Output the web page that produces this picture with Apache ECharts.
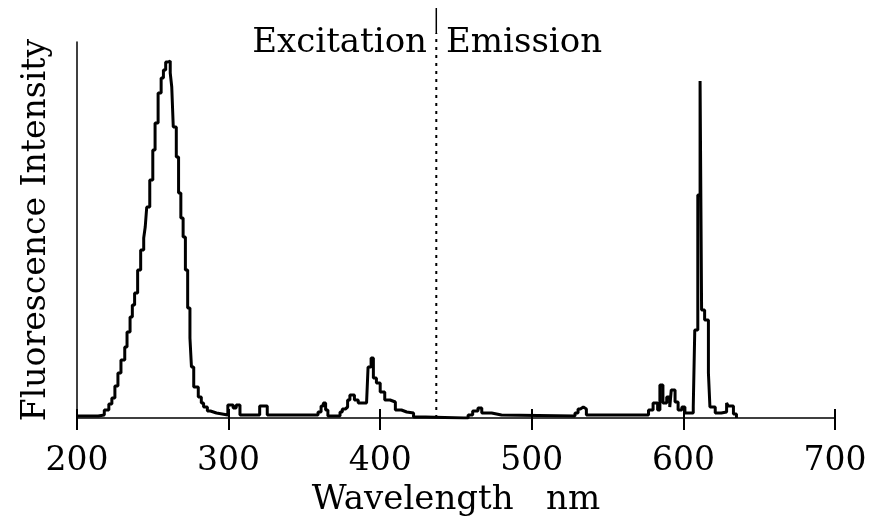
<!DOCTYPE html>
<html>
<head>
<meta charset="utf-8">
<title>Excitation / Emission spectrum</title>
<script src="https://cdn.jsdelivr.net/npm/echarts@6/dist/echarts.min.js"></script>
<style>
    html, body { margin: 0; padding: 0; background: #fff; }
    #chart { width: 869px; height: 519px; }
</style>
</head>
<body>
<div id="chart"></div>
<script>
    // wavelength (nm) and intensity (arbitrary units)
    const wavelength = [
        200, 205, 210, 214, 218, 221, 223, 225, 227, 229, 231.5, 233, 235, 236.5, 238, 240, 242, 244, 245, 246,
        248, 250, 251.5, 253.5, 255.5, 257, 258.5, 260, 261.5, 262.5, 263.5, 265.5, 267, 268.5, 270, 271.5, 273, 274.5,
        275.5, 277, 280, 282, 283.5, 286, 288, 292, 299.5, 303, 305, 307.5, 320.5, 325.5, 359, 361, 362.5, 364,
        365.5, 373.5, 375, 377, 378.5, 380, 383, 385.5, 391, 392, 394, 395.5, 397.5, 400, 403, 406.5, 410, 414,
        417.5, 422, 430, 455, 458, 461, 464.5, 467, 473.5, 480, 528.5, 530.5, 532, 534, 536, 570, 577, 580,
        583, 584.5, 586.5, 589, 591, 592, 594.5, 596.5, 599, 601, 606.5, 607.5, 609.5, 611, 612, 614, 616.5, 617.5,
        621, 625, 628.5, 629.5, 633, 635
    ];
    const intensity = [
        2, 2, 2, 3, 8, 14, 20, 32, 45, 58, 71, 86, 101, 113, 125, 148, 168, 180, 191, 211,
        238, 268, 295, 325, 340, 348, 356, 357, 345, 331, 291, 261, 225, 200, 181, 148, 110, 80,
        51, 31, 21, 15, 11, 7, 5, 3, 13, 10, 13, 3, 12, 3, 6, 12, 15, 8,
        2, 6, 9, 11, 18, 23, 18, 15, 16, 51, 60, 40, 35, 26, 18, 16, 8, 6,
        5, 1, 0, 0, 3, 7, 10, 5, 3, 2, 5, 9, 11, 9, 3, 3, 8, 15,
        8, 33, 15, 21, 11, 28, 16, 8, 11, 5, 11, 88, 223, 337, 108, 98, 45, 11,
        5, 6, 15, 12, 4, 0
    ];
    const xTicks = [200, 300, 400, 500, 600, 700];
    const divider = 437;          // excitation | emission boundary, nm
    const dividerDotted = [0, 385];  // intensity range of the dotted part
    const dividerSolid = [385, 410]; // short solid part next to the labels
    const yTop = 376;             // top of the intensity axis

    const spectrum = wavelength.map((w, i) => [w, intensity[i]]);
    const font = 'DejaVu Serif';

    let myChart = echarts.init(document.getElementById('chart'));

    let option = {
        animation: false,
        backgroundColor: '#fff',
        grid: { left: 77, right: 34, top: 42, bottom: 101, outerBoundsMode: 'none' },
        xAxis: [
            {
                type: 'value',
                min: xTicks[0],
                max: xTicks[xTicks.length - 1],
                interval: 100,
                name: 'Wavelength   nm',
                nameLocation: 'middle',
                nameGap: 60,
                nameTextStyle: { fontFamily: font, fontSize: 34, color: '#000' },
                axisLine: { lineStyle: { color: '#000', width: 1.5 } },
                axisTick: { length: 12, lineStyle: { color: '#000', width: 2 } },
                axisLabel: { fontFamily: font, fontSize: 33, color: '#000', margin: 27 },
                splitLine: { show: false }
            },
            {
                // ticks on the inner side so that they cross the axis
                type: 'value',
                position: 'bottom',
                min: xTicks[0],
                max: xTicks[xTicks.length - 1],
                interval: 100,
                axisLine: { show: false },
                axisTick: { inside: true, length: 9, lineStyle: { color: '#000', width: 2 } },
                axisLabel: { show: false },
                splitLine: { show: false }
            }
        ],
        yAxis: {
            type: 'value',
            min: 0,
            max: yTop,
            name: 'Fluorescence Intensity',
            nameLocation: 'middle',
            nameGap: 24,
            nameTextStyle: { fontFamily: font, fontSize: 33, color: '#000' },
            axisLine: { show: true, lineStyle: { color: '#000', width: 1.5 } },
            axisTick: { show: false },
            axisLabel: { show: false },
            splitLine: { show: false }
        },
        graphic: [
            {
                type: 'text', x: 427, y: 43,
                style: { text: 'Excitation', fontFamily: font, fontSize: 34, fill: '#000', align: 'right', verticalAlign: 'middle' }
            },
            {
                type: 'text', x: 446, y: 43,
                style: { text: 'Emission', fontFamily: font, fontSize: 34, fill: '#000', align: 'left', verticalAlign: 'middle' }
            }
        ],
        series: [
            {
                type: 'line',
                data: spectrum,
                step: 'end',
                symbol: 'none',
                lineStyle: { color: '#000', width: 3 }
            },
            {
                type: 'line',
                data: dividerDotted.map(v => [divider, v]),
                symbol: 'none',
                clip: false,
                lineStyle: { color: '#000', width: 2, type: [3, 5] }
            },
            {
                type: 'line',
                data: dividerSolid.map(v => [divider, v]),
                symbol: 'none',
                clip: false,
                lineStyle: { color: '#000', width: 1.5 }
            }
        ]
    };

    myChart.setOption(option);
</script>
</body>
</html>
